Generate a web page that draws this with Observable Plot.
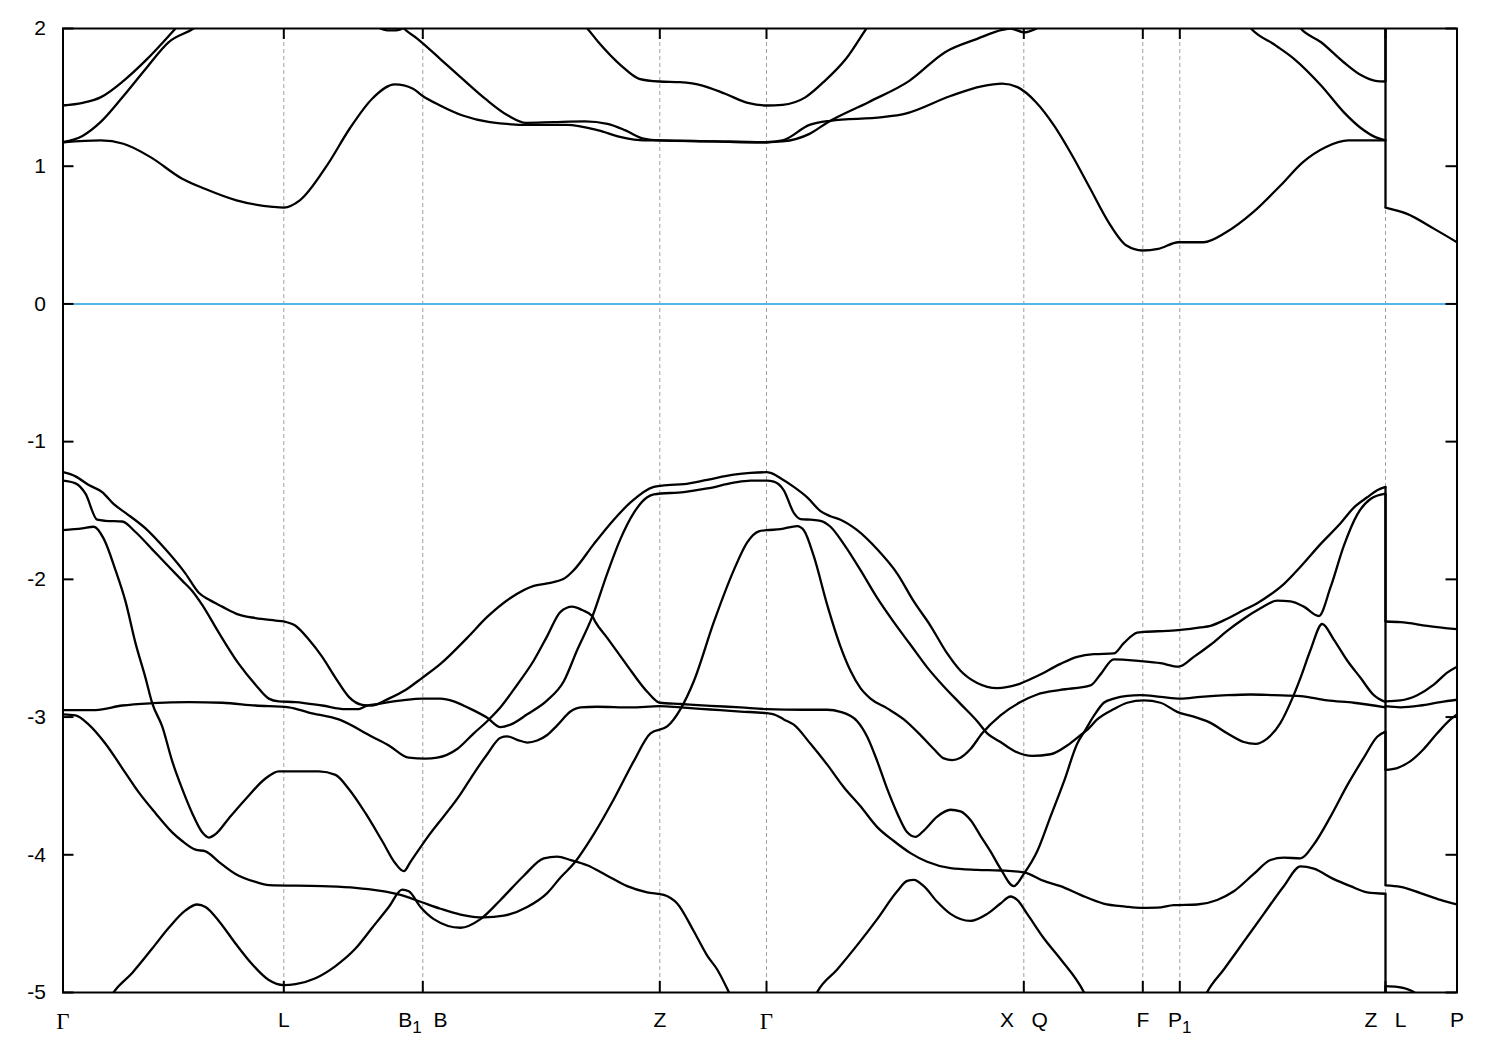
<!DOCTYPE html>
<html>
<head>
<meta charset="utf-8">
<script src="https://cdn.jsdelivr.net/npm/d3@7"></script>
<script src="https://cdn.jsdelivr.net/npm/@observablehq/plot@0.6"></script>
<style>
  html, body { margin: 0; padding: 0; background: #ffffff; }
</style>
</head>
<body>
<script>
// ---- high-symmetry path (k in path units) ----
const kPoints = [0, 2.208, 3.598, 5.968, 7.035, 9.608, 10.798, 11.168, 13.225, 13.94];
const kLabels = ["Γ", "L", "B_1\u00a0\u00a0B", "Z", "Γ", "X\u00a0\u00a0\u00a0Q", "F", "P_1", "Z\u00a0\u00a0\u00a0L", "P"];
const yTicks = [-5, -4, -3, -2, -1, 0, 1, 2];
const fermi = [0];

// ---- conduction bands (energy in eV) ----
const cb1 = [[0,1.174],[0.377,1.187],[0.604,1.163],[0.875,1.066],[1.192,0.909],[1.418,0.836],[1.735,0.752],[2.097,0.705],[2.21,0.70],[2.368,0.752],[2.64,1.006],[2.866,1.272],[3.092,1.49],[3.319,1.594],[3.50,1.563],[3.59,1.514],[3.771,1.441],[3.997,1.368],[4.269,1.32],[4.675,1.30],[5.038,1.30],[5.355,1.26],[5.581,1.211],[5.807,1.187],[5.965,1.187],[6.5,1.18],[7.035,1.174],[7.195,1.187],[7.465,1.30],[7.675,1.33],[8.195,1.356],[8.415,1.38],[8.875,1.51],[9.185,1.58],[9.391,1.60],[9.545,1.574],[9.73,1.465],[9.911,1.295],[10.092,1.078],[10.273,0.836],[10.455,0.594],[10.635,0.424],[10.794,0.388],[10.952,0.40],[11.155,0.448],[11.405,0.448],[11.631,0.52],[11.902,0.666],[12.175,0.86],[12.40,1.03],[12.625,1.138],[12.853,1.187],[13.225,1.187]];
const cb1L = [[13.225,0.70],[13.441,0.654],[13.712,0.545],[13.94,0.448]];
const cb2 = [[0,1.174],[0.195,1.22],[0.375,1.32],[0.605,1.51],[0.83,1.71],[1.055,1.90],[1.305,2.0],[1.45,2.08]];
const cb3 = [[0,1.441],[0.195,1.46],[0.375,1.50],[0.605,1.62],[0.83,1.77],[1.125,2.0],[1.25,2.1]];
const cbx = [[2.975,2.1],[3.155,2.005],[3.245,1.987],[3.335,1.987],[3.415,2.005],[3.575,2.1]];
const cb4 = [[3.325,2.07],[3.409,2.0],[3.545,1.925],[3.771,1.78],[3.995,1.634],[4.224,1.489],[4.45,1.368],[4.631,1.315],[4.902,1.32],[5.219,1.325],[5.445,1.307],[5.625,1.26],[5.805,1.20],[5.965,1.187],[6.5,1.18],[7.035,1.174],[7.195,1.18],[7.465,1.235],[7.649,1.32],[8.055,1.465],[8.463,1.62],[8.825,1.83],[9.142,1.925],[9.391,1.99],[9.475,2.0],[9.608,1.972],[9.735,2.0],[9.875,2.06]];
const cb5 = [[5.125,2.08],[5.242,2.0],[5.355,1.90],[5.581,1.731],[5.762,1.635],[5.965,1.615],[6.169,1.61],[6.395,1.586],[6.622,1.526],[6.848,1.46],[7.035,1.441],[7.195,1.446],[7.423,1.50],[7.604,1.61],[7.83,1.78],[8.034,2.0],[8.13,2.1]];
const cb6 = [[11.775,2.1],[11.88,2.0],[12.129,1.876],[12.31,1.78],[12.581,1.586],[12.807,1.393],[12.988,1.272],[13.124,1.211],[13.225,1.187]];
const cb6L = [[13.225,2.3]];
const cb7 = [[12.275,2.1],[12.377,2.0],[12.581,1.90],[12.807,1.755],[12.988,1.658],[13.124,1.62],[13.225,1.615]];
const cb7L = [[13.225,2.3]];

// ---- valence bands (energy in eV) ----
const vbA = [[0,-1.222],[0.125,-1.252],[0.258,-1.315],[0.392,-1.366],[0.508,-1.454],[0.625,-1.517],[0.825,-1.63],[1.025,-1.782],[1.225,-1.958],[1.358,-2.097],[1.458,-2.147],[1.592,-2.198],[1.758,-2.256],[1.925,-2.281],[2.125,-2.299],[2.208,-2.306],[2.325,-2.337],[2.458,-2.437],[2.592,-2.563],[2.725,-2.715],[2.858,-2.853],[2.992,-2.911],[3.092,-2.916],[3.258,-2.866],[3.425,-2.803],[3.592,-2.715],[3.775,-2.614],[4.042,-2.425],[4.242,-2.273],[4.475,-2.135],[4.708,-2.047],[4.842,-2.029],[5.008,-1.996],[5.108,-1.933],[5.308,-1.744],[5.508,-1.567],[5.675,-1.441],[5.908,-1.328],[6.042,-1.315],[6.208,-1.308],[6.442,-1.277],[6.708,-1.24],[6.875,-1.227],[7.035,-1.222],[7.075,-1.227],[7.175,-1.265],[7.308,-1.328],[7.442,-1.404],[7.575,-1.504],[7.675,-1.542],[7.775,-1.567],[7.942,-1.643],[8.142,-1.782],[8.342,-1.958],[8.508,-2.16],[8.675,-2.337],[8.842,-2.538],[8.975,-2.664],[9.142,-2.753],[9.342,-2.79],[9.542,-2.765],[9.742,-2.702],[9.975,-2.614],[10.142,-2.563],[10.308,-2.543],[10.508,-2.538],[10.608,-2.463],[10.742,-2.387],[10.808,-2.382],[11.042,-2.374],[11.175,-2.367],[11.375,-2.349],[11.475,-2.337],[11.642,-2.286],[11.808,-2.223],[11.942,-2.173],[12.075,-2.11],[12.208,-2.034],[12.375,-1.908],[12.575,-1.744],[12.775,-1.593],[12.908,-1.479],[13.042,-1.404],[13.142,-1.353],[13.225,-1.328]];
const vbAL = [[13.225,-2.306],[13.375,-2.311],[13.642,-2.337],[13.94,-2.362]];

const vbB = [[0,-1.283],[0.125,-1.303],[0.225,-1.378],[0.342,-1.567],[0.425,-1.575],[0.592,-1.58],[0.725,-1.656],[0.892,-1.782],[1.025,-1.883],[1.192,-2.009],[1.292,-2.084],[1.392,-2.185],[1.558,-2.387],[1.758,-2.614],[1.925,-2.765],[2.058,-2.866],[2.158,-2.886],[2.325,-2.891],[2.592,-2.916],[2.825,-2.942],[2.958,-2.942],[3.025,-2.921],[3.158,-2.904],[3.392,-2.879],[3.592,-2.866],[3.775,-2.866],[3.908,-2.886],[4.042,-2.929],[4.242,-3.005],[4.375,-3.073],[4.475,-3.055],[4.642,-2.98],[4.842,-2.879],[5.008,-2.74],[5.142,-2.513],[5.292,-2.273],[5.442,-1.958],[5.575,-1.706],[5.708,-1.517],[5.842,-1.404],[5.908,-1.383],[6.208,-1.366],[6.442,-1.34],[6.708,-1.298],[6.875,-1.283],[7.035,-1.283],[7.108,-1.29],[7.208,-1.353],[7.308,-1.517],[7.375,-1.562],[7.475,-1.567],[7.575,-1.575],[7.675,-1.618],[7.808,-1.744],[7.975,-1.933],[8.142,-2.135],[8.308,-2.311],[8.475,-2.475],[8.642,-2.639],[8.808,-2.778],[8.975,-2.904],[9.142,-3.03],[9.242,-3.118],[9.375,-3.181],[9.508,-3.244],[9.692,-3.282],[9.875,-3.27],[10.042,-3.206],[10.175,-3.131],[10.242,-3.093],[10.342,-3.017],[10.508,-2.942],[10.642,-2.896],[10.808,-2.879],[10.975,-2.896],[11.142,-2.962],[11.308,-2.997],[11.475,-3.042],[11.642,-3.118],[11.808,-3.181],[11.925,-3.194],[12.042,-3.156],[12.175,-3.042],[12.292,-2.866],[12.375,-2.715],[12.475,-2.513],[12.592,-2.324],[12.708,-2.437],[12.842,-2.589],[12.975,-2.715],[13.108,-2.841],[13.225,-2.891]];
const vbBL = [[13.225,-2.921],[13.375,-2.929],[13.575,-2.916],[13.775,-2.891],[13.94,-2.874]];

const vbC = [[0,-1.643],[0.192,-1.63],[0.308,-1.618],[0.408,-1.706],[0.525,-1.933],[0.625,-2.16],[0.725,-2.463],[0.825,-2.715],[0.892,-2.899],[0.992,-3.068],[1.092,-3.32],[1.192,-3.522],[1.292,-3.698],[1.392,-3.837],[1.458,-3.875],[1.525,-3.85],[1.658,-3.736],[1.825,-3.597],[2.025,-3.446],[2.158,-3.395],[2.558,-3.395],[2.725,-3.42],[2.858,-3.522],[3.025,-3.698],[3.192,-3.90],[3.325,-4.064],[3.408,-4.119],[3.475,-4.051],[3.642,-3.875],[3.975,-3.56],[4.108,-3.41],[4.242,-3.27],[4.375,-3.15],[4.442,-3.14],[4.542,-3.165],[4.642,-3.185],[4.742,-3.17],[4.842,-3.13],[4.942,-3.06],[5.075,-2.96],[5.175,-2.93],[5.342,-2.925],[5.675,-2.93],[5.968,-2.921],[6.175,-2.93],[6.475,-2.945],[6.775,-2.96],[7.035,-2.972],[7.108,-2.98],[7.208,-3.017],[7.308,-3.055],[7.475,-3.194],[7.642,-3.345],[7.808,-3.509],[7.975,-3.648],[8.142,-3.799],[8.308,-3.90],[8.475,-3.988],[8.642,-4.051],[8.875,-4.097],[9.142,-4.109],[9.375,-4.114],[9.608,-4.127],[9.808,-4.19],[9.975,-4.228],[10.175,-4.291],[10.405,-4.354],[10.625,-4.376],[10.775,-4.385],[10.942,-4.384],[11.108,-4.366],[11.342,-4.361],[11.542,-4.328],[11.708,-4.265],[11.908,-4.139],[12.075,-4.038],[12.208,-4.021],[12.375,-4.026],[12.508,-3.925],[12.675,-3.723],[12.842,-3.496],[13.008,-3.295],[13.142,-3.143],[13.225,-3.106]];
const vbCL = [[13.225,-4.222],[13.375,-4.233],[13.575,-4.278],[13.775,-4.328],[13.94,-4.361]];

const vbD = [[0,-2.98],[0.125,-2.987],[0.258,-3.055],[0.425,-3.194],[0.592,-3.37],[0.758,-3.547],[0.925,-3.698],[1.092,-3.837],[1.192,-3.90],[1.325,-3.963],[1.425,-3.975],[1.558,-4.051],[1.725,-4.139],[1.925,-4.197],[2.058,-4.22],[2.592,-4.228],[2.925,-4.24],[3.158,-4.26],[3.375,-4.291],[3.575,-4.341],[3.775,-4.392],[3.975,-4.434],[4.208,-4.455],[4.408,-4.442],[4.642,-4.379],[4.842,-4.278],[4.975,-4.165],[5.108,-4.064],[5.308,-3.85],[5.508,-3.597],[5.708,-3.32],[5.875,-3.118],[6.042,-3.068],[6.175,-2.942],[6.308,-2.74],[6.508,-2.311],[6.708,-1.933],[6.842,-1.731],[6.958,-1.651],[7.035,-1.643],[7.175,-1.636],[7.342,-1.613],[7.408,-1.643],[7.508,-1.832],[7.642,-2.185],[7.775,-2.488],[7.875,-2.664],[7.975,-2.79],[8.075,-2.866],[8.242,-2.937],[8.408,-3.017],[8.575,-3.131],[8.708,-3.232],[8.808,-3.30],[8.892,-3.312],[8.975,-3.295],[9.075,-3.232],[9.192,-3.118],[9.375,-2.987],[9.575,-2.891],[9.742,-2.836],[9.975,-2.803],[10.275,-2.77],[10.375,-2.69],[10.508,-2.581],[10.775,-2.594],[10.975,-2.609],[11.158,-2.634],[11.308,-2.563],[11.475,-2.475],[11.642,-2.374],[11.808,-2.286],[11.975,-2.21],[12.142,-2.155],[12.275,-2.16],[12.408,-2.198],[12.558,-2.266],[12.675,-2.059],[12.808,-1.757],[12.942,-1.53],[13.075,-1.416],[13.225,-1.378]];
const vbDL = [[13.225,-2.886],[13.375,-2.879],[13.542,-2.841],[13.708,-2.765],[13.842,-2.677],[13.94,-2.634]];

const vbE = [[0,-2.949],[0.325,-2.949],[0.592,-2.916],[0.892,-2.899],[1.258,-2.891],[1.592,-2.896],[1.925,-2.916],[2.258,-2.929],[2.458,-2.967],[2.758,-3.017],[3.092,-3.143],[3.258,-3.206],[3.458,-3.295],[3.625,-3.302],[3.742,-3.295],[3.942,-3.232],[4.108,-3.118],[4.242,-3.03],[4.375,-2.929],[4.542,-2.765],[4.708,-2.589],[4.842,-2.412],[4.975,-2.236],[5.092,-2.198],[5.192,-2.223],[5.292,-2.266],[5.325,-2.311],[5.442,-2.425],[5.642,-2.626],[5.842,-2.816],[5.968,-2.896],[6.175,-2.905],[6.475,-2.918],[6.775,-2.93],[7.035,-2.942],[7.408,-2.947],[7.642,-2.947],[7.775,-2.962],[7.942,-3.03],[8.042,-3.143],[8.142,-3.32],[8.242,-3.522],[8.342,-3.698],[8.442,-3.837],[8.525,-3.87],[8.608,-3.824],[8.742,-3.723],[8.875,-3.673],[8.975,-3.685],[9.075,-3.748],[9.175,-3.862],[9.275,-3.975],[9.375,-4.101],[9.508,-4.228],[9.608,-4.139],[9.742,-3.975],[9.875,-3.723],[10.008,-3.471],[10.142,-3.194],[10.225,-3.093],[10.308,-2.992],[10.408,-2.896],[10.508,-2.866],[10.642,-2.846],[10.775,-2.841],[10.975,-2.853],[11.175,-2.866],[11.375,-2.853],[11.642,-2.841],[11.875,-2.836],[12.108,-2.841],[12.375,-2.848],[12.642,-2.879],[12.908,-2.896],[13.225,-2.929]];
const vbEL = [[13.225,-3.383],[13.342,-3.37],[13.475,-3.32],[13.608,-3.232],[13.742,-3.118],[13.875,-3.017],[13.94,-2.98]];

const vbF = [[0.425,-5.1],[0.508,-4.997],[0.692,-4.858],[0.892,-4.681],[1.058,-4.53],[1.225,-4.404],[1.342,-4.361],[1.425,-4.379],[1.558,-4.48],[1.725,-4.644],[1.892,-4.795],[2.058,-4.909],[2.208,-4.946],[2.325,-4.939],[2.525,-4.896],[2.725,-4.808],[2.925,-4.681],[3.092,-4.53],[3.258,-4.379],[3.392,-4.253],[3.458,-4.265],[3.575,-4.379],[3.708,-4.467],[3.975,-4.53],[4.175,-4.467],[4.375,-4.328],[4.608,-4.152],[4.808,-4.026],[4.942,-4.013],[5.075,-4.038],[5.242,-4.076],[5.442,-4.152],[5.642,-4.228],[5.842,-4.273],[6.008,-4.291],[6.142,-4.354],[6.308,-4.555],[6.442,-4.732],[6.542,-4.833],[6.658,-4.997],[6.725,-5.1]];
const vbG = [[7.475,-5.1],[7.542,-4.997],[7.742,-4.833],[7.942,-4.656],[8.142,-4.467],[8.342,-4.265],[8.442,-4.19],[8.508,-4.182],[8.608,-4.228],[8.742,-4.341],[8.875,-4.429],[9.075,-4.48],[9.242,-4.429],[9.375,-4.354],[9.475,-4.303],[9.542,-4.328],[9.642,-4.429],[9.808,-4.606],[9.975,-4.757],[10.208,-4.997],[10.275,-5.1]];
const vbH = [[11.375,-5.1],[11.442,-4.997],[11.608,-4.833],[11.808,-4.631],[12.008,-4.429],[12.208,-4.228],[12.375,-4.084],[12.508,-4.101],[12.708,-4.177],[12.875,-4.228],[13.042,-4.273],[13.225,-4.283]];
const vbHL = [[13.225,-5.3]];
const vbI = [[13.225,-5.3]];
const vbIL = [[13.225,-4.954],[13.342,-4.959],[13.508,-4.997],[13.575,-5.05]];

// each band: list of pieces; consecutive pieces are joined by a vertical jump at Z|L
const bandPaths = [
  [cb1, cb1L], [cb2], [cb3], [cbx], [cb4], [cb5], [cb6, cb6L], [cb7, cb7L],
  [vbA, vbAL], [vbB, vbBL], [vbC, vbCL], [vbD, vbDL], [vbE, vbEL],
  [vbF], [vbG], [vbH, vbHL], [vbI, vbIL]
];

const rows = [];
const jumps = [];
bandPaths.forEach((pieces, b) => {
  pieces.forEach((piece, i) => {
    piece.forEach(([k, e]) => rows.push({id: b + "-" + i, k, e}));
    if (i > 0) {
      const a = pieces[i - 1][pieces[i - 1].length - 1];
      const c = piece[0];
      jumps.push({k1: a[0], e1: a[1], k2: c[0], e2: c[1]});
    }
  });
});

const labelMap = new Map(kPoints.map((k, i) => [k, kLabels[i]]));

const W = 1500, H = 1050, ml = 62.5, mr = 43.5, mt = 28, mb = 58;
const iw = W - ml - mr, ih = H - mt - mb;
const tick = 11;

const chart = Plot.plot({
  width: W, height: H,
  marginLeft: ml, marginRight: mr, marginTop: mt, marginBottom: mb,
  x: {domain: [0, 13.94]},
  y: {domain: [-5, 2]},
  style: {fontFamily: "'Liberation Sans', Arial, sans-serif", fontSize: "21px", background: "#ffffff", color: "#000000"},
  marks: [
    Plot.ruleX(kPoints, {stroke: "#a0a0a0", strokeWidth: 1, strokeDasharray: "4,3"}),
    Plot.ruleY(fermi, {stroke: "#56b4e9", strokeWidth: 2}),
    Plot.line(rows, {x: "k", y: "e", z: "id", curve: "monotone-x", stroke: "#000000", strokeWidth: 2.3, clip: true}),
    Plot.link(jumps, {x1: "k1", y1: "e1", x2: "k2", y2: "e2", stroke: "#000000", strokeWidth: 2.3, clip: true}),
    Plot.frame({stroke: "#000000", strokeWidth: 2}),
    Plot.ruleX(kPoints, {insetBottom: ih - tick, stroke: "#000000", strokeWidth: 2}),
    Plot.ruleX(kPoints, {insetTop: ih - tick, stroke: "#000000", strokeWidth: 2}),
    Plot.ruleY(yTicks, {insetRight: iw - tick, stroke: "#000000", strokeWidth: 2}),
    Plot.ruleY(yTicks, {insetLeft: iw - tick, stroke: "#000000", strokeWidth: 2}),
    Plot.axisX({ticks: kPoints, anchor: "bottom", tickSize: 0, tickPadding: 20, fontSize: 21, tickFormat: d => labelMap.get(d)}),
    Plot.axisY({ticks: yTicks, anchor: "left", tickSize: 0, tickPadding: 17, fontSize: 21, tickFormat: d => String(d)})
  ]
});

document.body.appendChild(chart);

// typographic touches: serif Gamma, subscripts
const NS = "http://www.w3.org/2000/svg";
chart.querySelectorAll("text").forEach(t => {
  const s = t.textContent;
  if (s === "Γ") {
    t.style.fontFamily = "'Liberation Serif', 'DejaVu Serif', serif";
    t.style.fontSize = "23px";
  } else if (s.includes("_1")) {
    const [pre, post] = s.split("_1");
    t.textContent = "";
    t.appendChild(document.createTextNode(pre));
    const sub = document.createElementNS(NS, "tspan");
    sub.setAttribute("dy", "6");
    sub.style.fontSize = "17px";
    sub.textContent = "1";
    t.appendChild(sub);
    if (post) {
      const rest = document.createElementNS(NS, "tspan");
      rest.setAttribute("dy", "-6");
      rest.textContent = post;
      t.appendChild(rest);
    }
  }
});
</script>
</body>
</html>
